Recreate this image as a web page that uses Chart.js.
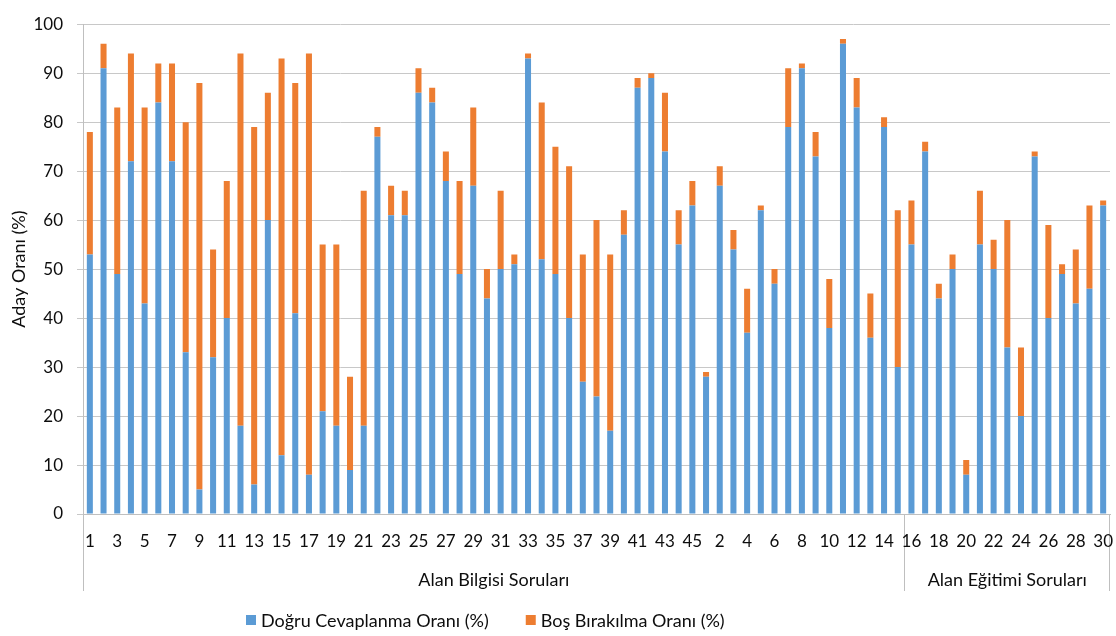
<!DOCTYPE html>
<html>
<head>
<meta charset="utf-8">
<script src="https://cdn.jsdelivr.net/npm/chart.js@4.4.1/dist/chart.umd.min.js"></script>
<style>
  html, body { margin: 0; padding: 0; background: #ffffff; }
  #wrap { width: 1116px; height: 636px; position: relative; }
</style>
</head>
<body>
<div id="wrap"><canvas id="chart" width="1116" height="636"></canvas></div>
<script>
// ---- Data ----
const categories = [
  '1','2','3','4','5','6','7','8','9','10','11','12','13','14','15','16','17','18','19','20',
  '21','22','23','24','25','26','27','28','29','30','31','32','33','34','35','36','37','38','39','40',
  '41','42','43','44','45',
  '1','2','3','4','5','6','7','8','9','10','11','12','13','14','15',
  '16','17','18','19','20','21','22','23','24','25','26','27','28','29','30'
];
const groupLabels = ['Alan Bilgisi Soruları', 'Alan Eğitimi Soruları'];
const groupSizes = [60, 15];
const seriesLabels = ['Doğru Cevaplanma Oranı (%)', 'Boş Bırakılma Oranı (%)'];
const dogruOrani = [
  53, 91, 49, 72, 43, 84, 72, 33, 5, 32, 40, 18, 6, 60, 12, 41, 8, 21, 18, 9,
  18, 77, 61, 61, 86, 84, 68, 49, 67, 44, 50, 51, 93, 52, 49, 40, 27, 24, 17, 57,
  87, 89, 74, 55, 63,
  28, 67, 54, 37, 62, 47, 79, 91, 73, 38, 96, 83, 36, 79, 30,
  55, 74, 44, 50, 8, 55, 50, 34, 20, 73, 40, 49, 43, 46, 63
];
const bosOrani = [
  25, 5, 34, 22, 40, 8, 20, 47, 83, 22, 28, 76, 73, 26, 81, 47, 86, 34, 37, 19,
  48, 2, 6, 5, 5, 3, 6, 19, 16, 6, 16, 2, 1, 32, 26, 31, 26, 36, 36, 5,
  2, 1, 12, 7, 5,
  1, 4, 4, 9, 1, 3, 12, 1, 5, 10, 1, 6, 9, 2, 32,
  9, 2, 3, 3, 3, 11, 6, 26, 14, 1, 19, 2, 11, 17, 1
];
const yAxisTitle = 'Aday Oranı (%)';

// ---- Style ----
const FONT = 'Lato';
const TEXT = '#0d0d0d';
const GRID = '#c8c8c8';
const AXIS = '#bfbfbf';
const BLUE = '#5B9BD5';
const ORANGE = '#ED7D31';

// group boundaries (category index) and midpoints, derived from group sizes
const boundaries = [0];
groupSizes.forEach(s => boundaries.push(boundaries[boundaries.length - 1] + s));
const groupMids = groupSizes.map((s, i) => boundaries[i] + s / 2);

const legendPlugin = {
  id: 'excelLegend',
  afterDraw(chart) {
    const ctx = chart.ctx;
    ctx.save();
    ctx.font = '18px ' + FONT;
    ctx.textBaseline = 'middle';
    ctx.textAlign = 'left';
    let x = 246;
    const y = 620;
    chart.data.datasets.forEach(ds => {
      ctx.fillStyle = ds.backgroundColor;
      ctx.fillRect(x, y - 5, 10, 10);
      x += 15;
      ctx.fillStyle = TEXT;
      ctx.fillText(ds.label, x, y + 1);
      x += ctx.measureText(ds.label).width + 37;
    });
    ctx.restore();
  }
};

new Chart(document.getElementById('chart'), {
  type: 'bar',
  data: {
    labels: categories,
    datasets: [
      { label: seriesLabels[0], data: dogruOrani, backgroundColor: BLUE, stack: 's',
        barPercentage: 0.44, categoryPercentage: 1.0 },
      { label: seriesLabels[1], data: bosOrani, backgroundColor: ORANGE, stack: 's',
        barPercentage: 0.44, categoryPercentage: 1.0 }
    ]
  },
  options: {
    responsive: false,
    devicePixelRatio: 1,
    animation: false,
    layout: { padding: { top: 11, right: 6, bottom: 41, left: 0 } },
    plugins: {
      legend: { display: false },
      tooltip: { enabled: false }
    },
    scales: {
      x: {
        type: 'category',
        stacked: true,
        offset: true,
        weight: 0,
        grid: {
          offset: true,
          drawOnChartArea: false,
          drawTicks: true,
          tickLength: 77,
          lineWidth: 1,
          color: (c) => {
            const i = c.type === 'tick' ? c.index : categories.length;
            return boundaries.includes(i) ? AXIS : 'rgba(0,0,0,0)';
          }
        },
        border: { display: true, color: AXIS, width: 1 },
        ticks: {
          autoSkip: false,
          maxRotation: 0,
          minRotation: 0,
          padding: -60,
          color: TEXT,
          font: { family: FONT, size: 17 },
          callback: (v, i) => (i % 2 === 0 ? categories[i] : '')
        },
        afterFit: (s) => { s.height = 45; }
      },
      x2: {
        type: 'linear',
        position: 'bottom',
        weight: 1,
        offset: false,
        min: 0,
        max: categories.length,
        grid: { display: false, drawTicks: false, offset: false },
        border: { display: false },
        afterBuildTicks: (s) => { s.ticks = groupMids.map(v => ({ value: v })); },
        ticks: {
          autoSkip: false,
          maxRotation: 0,
          minRotation: 0,
          padding: 10,
          color: TEXT,
          font: { family: FONT, size: 18 },
          callback: (v, i) => groupLabels[i]
        },
        afterFit: (s) => { s.height = 36; }
      },
      y: {
        stacked: true,
        min: 0,
        max: 100,
        ticks: {
          stepSize: 10,
          padding: 14,
          color: TEXT,
          font: { family: FONT, size: 17 }
        },
        grid: { color: GRID, lineWidth: 1, drawTicks: true, tickLength: 6 },
        border: { display: true, color: AXIS, width: 1 },
        title: {
          display: true,
          text: yAxisTitle,
          color: TEXT,
          font: { family: FONT, size: 18 },
          padding: { top: 8, bottom: 0 }
        },
        afterFit: (s) => { s.width = 83; }
      }
    }
  },
  plugins: [legendPlugin]
});
</script>
</body>
</html>
